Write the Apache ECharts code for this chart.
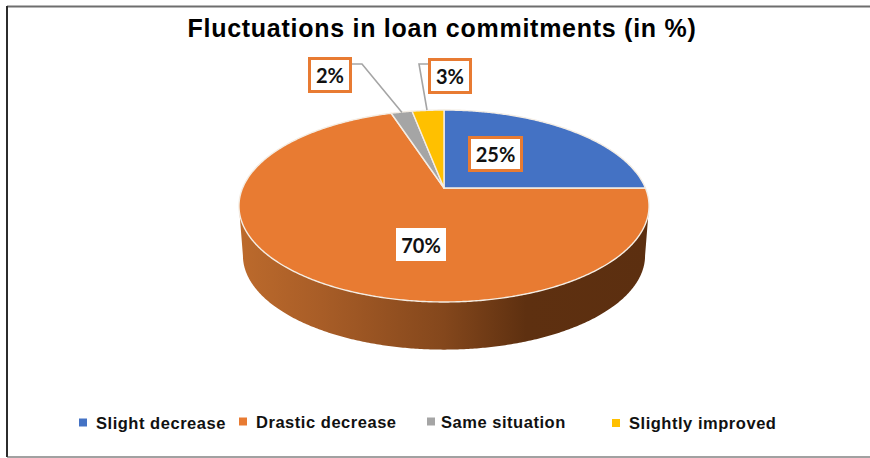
<!DOCTYPE html>
<html>
<head>
<meta charset="utf-8">
<style>
  html, body { margin: 0; padding: 0; background: #fff; }
  #chart { width: 870px; height: 458px; }
  /* Tracked-out Arial-style headings */
  #chart text[style*="25px"] { letter-spacing: 0.73px; }
  #chart text[style*="16.5px"] { letter-spacing: 0.53px; }
</style>
<script src="https://cdn.jsdelivr.net/npm/echarts@6/dist/echarts.min.js"></script>
</head>
<body>
<div id="chart"></div>
<script>
const titleText = 'Fluctuations in loan commitments (in %)';
const categories = ['Slight decrease', 'Drastic decrease', 'Same situation', 'Slightly improved'];
const shares = [25, 70, 2, 3];
const colors = ['#4472C4', '#E87B32', '#A5A5A5', '#FFC000'];

// Tilted-disc projection: the apex sits above the ellipse centre, as in a perspective view.
const disc = { cx: 444, cy: 188, rx: 201.4, ry: 92.6, skew: -0.1875 };
const base = { cx: 444, cy: 238, rx: 197.5, ry: 90.7, skew: -0.1875 };

// Value-label boxes: centre, size and any leader line.
const labelBoxes = [
  { x: 495.5, y: 154, w: 52, h: 33, leader: null },
  { x: 421, y: 244.5, w: 53, h: 36, leader: null },
  { x: 330, y: 75, w: 41, h: 33, leader: [[352, 64], [362, 64], [402, 112.5]] },
  { x: 450, y: 76, w: 41, h: 33, leader: [[428, 64], [419, 64], [427, 110]] }
];

const legendSpots = [
  { left: 79, top: 414, gap: 4 }, { left: 239, top: 413, gap: 4 },
  { left: 427, top: 413, gap: 1 }, { left: 612, top: 414.5, gap: 4 }
];

function project(p, deg) {
  const t = deg * Math.PI / 180;
  const ux = Math.sin(t), uy = -Math.cos(t);
  const w = 1 + p.skew * uy;
  return [p.cx + p.rx * ux / w, p.cy + p.ry * uy / w];
}

function arcPoints(p, from, to) {
  const pts = [];
  const steps = Math.max(2, Math.ceil(Math.abs(to - from) * 2));
  for (let i = 0; i <= steps; i++) pts.push(project(p, from + (to - from) * i / steps));
  return pts;
}

// The rim is visible between the two horizontal extremes of the ellipse.
const rimFrom = Math.acos(disc.skew) * 180 / Math.PI;
const rimTo = 360 - rimFrom;

function renderSlice(params, api) {
  const idx = params.seriesIndex;
  const total = shares.reduce((a, b) => a + b, 0);
  const before = shares.slice(0, idx).reduce((a, b) => a + b, 0);
  const start = before / total * 360;
  const end = start + api.value(0) / total * 360;
  const children = [];

  const a = Math.max(start, rimFrom), b = Math.min(end, rimTo);
  if (b > a) {
    const upper = arcPoints(disc, a, b);
    const lower = arcPoints(base, a, b).reverse();
    children.push({
      type: 'polygon',
      shape: { points: upper.concat(lower) },
      style: {
        fill: new echarts.graphic.LinearGradient(0, 0, 1, 0, [
          { offset: 0, color: '#BC6A2C' },
          { offset: 0.2, color: '#A85D27' },
          { offset: 0.5, color: '#84471C' },
          { offset: 0.7, color: '#5E3010' },
          { offset: 1, color: '#5C2F10' }
        ])
      }
    });
  }

  children.push({
    type: 'polygon',
    shape: { points: [[disc.cx, disc.cy]].concat(arcPoints(disc, start, end)) },
    style: { fill: colors[idx], stroke: '#F4EDE4', lineWidth: 1.4, lineJoin: 'round' }
  });
  return { type: 'group', children: children };
}

// Labels are a separate layer so that no slice can cover them.
function renderLabel(params, api) {
  const box = labelBoxes[params.dataIndex];
  const children = [];
  if (box.leader) {
    children.push({
      type: 'polyline',
      shape: { points: box.leader },
      style: { fill: 'none', stroke: '#A5A5A5', lineWidth: 1.6 }
    });
  }
  children.push({
    type: 'rect',
    shape: { x: box.x - box.w / 2, y: box.y - box.h / 2, width: box.w, height: box.h },
    style: { fill: '#fff', stroke: '#E87B32', lineWidth: 3 }
  });
  children.push({
    type: 'text',
    style: {
      x: box.x, y: box.y, text: api.value(0) + '%',
      align: 'center', verticalAlign: 'middle',
      font: 'bold 20px Lato', fill: '#111'
    }
  });
  return { type: 'group', children: children };
}

const series = categories.map((name, i) => ({
  type: 'custom',
  name: name,
  coordinateSystem: 'none',
  silent: true,
  z: i === 1 ? 2 : 3,
  itemStyle: { color: colors[i] },
  data: [[shares[i]]],
  renderItem: renderSlice
}));
series.push({
  type: 'custom',
  coordinateSystem: 'none',
  silent: true,
  z: 5,
  data: shares.map(v => [v]),
  renderItem: renderLabel
});

const chart = echarts.init(document.getElementById('chart'), null, { renderer: 'svg' });
chart.setOption({
  animation: false,
  backgroundColor: '#fff',
  title: {
    text: titleText,
    left: 442,
    top: 15,
    padding: 0,
    textAlign: 'center',
    textStyle: { fontFamily: 'Liberation Sans', fontWeight: 'bold', fontSize: 25, color: '#000' }
  },
  legend: categories.map((name, i) => ({
    data: [{ name: name, itemStyle: { color: colors[i] } }],
    left: legendSpots[i].left,
    top: legendSpots[i].top,
    padding: 0,
    icon: 'rect',
    itemWidth: 8,
    itemHeight: 8,
    itemGap: 0,
    selectedMode: false,
    textStyle: { fontFamily: 'Liberation Sans', fontWeight: 'bold', fontSize: 16.5, color: '#111', padding: [0, 0, 0, legendSpots[i].gap] }
  })),
  graphic: [
    {
      type: 'polyline',
      silent: true,
      shape: { points: [[870, 6.5], [7, 6.5]] },
      style: { fill: 'none', stroke: '#6E6E6E', lineWidth: 2 }
    },
    {
      type: 'polyline',
      silent: true,
      shape: { points: [[7, 6], [7, 457]] },
      style: { fill: 'none', stroke: '#2C2C2C', lineWidth: 2 }
    },
    {
      type: 'polyline',
      silent: true,
      shape: { points: [[7, 457], [870, 457]] },
      style: { fill: 'none', stroke: '#444', lineWidth: 1.2 }
    }
  ],
  series: series
});
</script>
</body>
</html>
